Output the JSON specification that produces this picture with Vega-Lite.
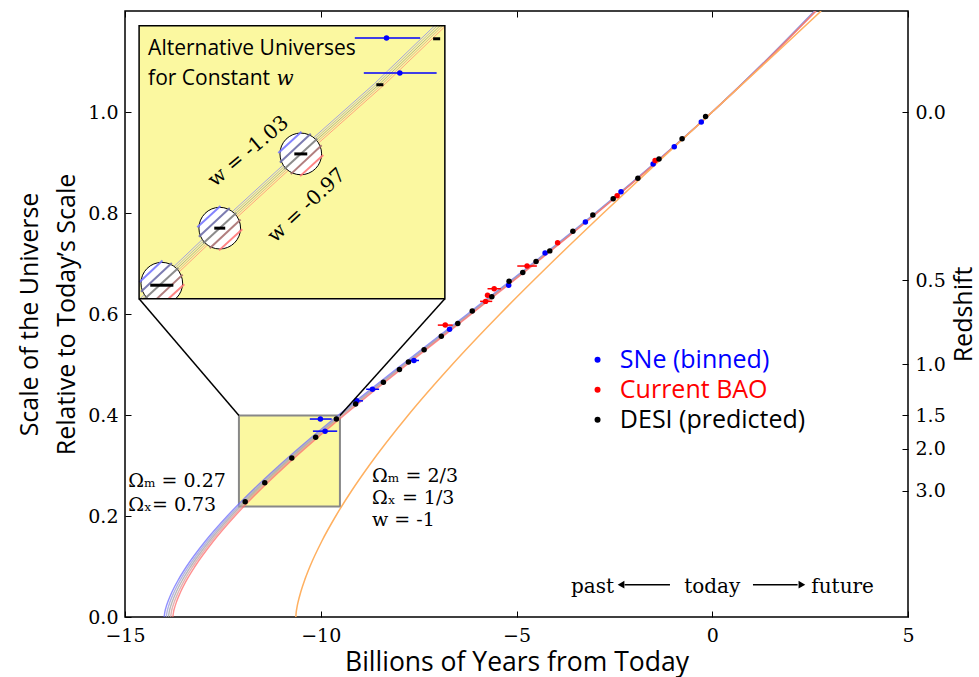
{
 "$schema": "https://vega.github.io/schema/vega-lite/v6.json",
 "width": 783, "height": 606,
 "autosize": {"type": "none"},
 "padding": {"left": 125, "top": 11, "right": 71, "bottom": 60},
 "background": "white",
 "config": {
  "view": {"stroke": "black", "strokeWidth": 1.5},
  "axis": {"grid": false, "domain": false, "labelFlush": false, "labelOverlap": false, "labelBound": false,
   "tickColor": "black", "tickWidth": 1, "labelColor": "black", "titleColor": "black",
   "labelFont": "DejaVu Serif", "labelFontSize": 19, "titleFont": "Open Sans", "titleFontSize": 24, "titleFontWeight": "normal"}
 },
 "resolve": {"axis": {"x": "independent", "y": "independent"}, "scale": {"color": "independent"}},
 "datasets": {
  "bundle": [
   {"w":"-1.03","a":0,"x":-14.0},{"w":"-1.03","a":0.01,"x":-13.982},{"w":"-1.03","a":0.02,"x":-13.949},{"w":"-1.03","a":0.03,"x":-13.905},{"w":"-1.03","a":0.05,"x":-13.798},{"w":"-1.03","a":0.075,"x":-13.628},{"w":"-1.03","a":0.1,"x":-13.428},{"w":"-1.03","a":0.15,"x":-12.95},{"w":"-1.03","a":0.2,"x":-12.387},{"w":"-1.03","a":0.25,"x":-11.754},{"w":"-1.03","a":0.3,"x":-11.062},{"w":"-1.03","a":0.35,"x":-10.323},{"w":"-1.03","a":0.4,"x":-9.546},{"w":"-1.03","a":0.45,"x":-8.741},{"w":"-1.03","a":0.5,"x":-7.918},{"w":"-1.03","a":0.6,"x":-6.25},{"w":"-1.03","a":0.7,"x":-4.593},{"w":"-1.03","a":0.8,"x":-2.988},{"w":"-1.03","a":0.9,"x":-1.455},{"w":"-1.03","a":1.0,"x":0},{"w":"-1.03","a":1.1,"x":1.344},{"w":"-1.03","a":1.2,"x":2.611},
   {"w":"-1.015","a":0,"x":-13.945},{"w":"-1.015","a":0.01,"x":-13.926},{"w":"-1.015","a":0.02,"x":-13.893},{"w":"-1.015","a":0.03,"x":-13.85},{"w":"-1.015","a":0.05,"x":-13.743},{"w":"-1.015","a":0.075,"x":-13.574},{"w":"-1.015","a":0.1,"x":-13.374},{"w":"-1.015","a":0.15,"x":-12.898},{"w":"-1.015","a":0.2,"x":-12.338},{"w":"-1.015","a":0.25,"x":-11.708},{"w":"-1.015","a":0.3,"x":-11.018},{"w":"-1.015","a":0.35,"x":-10.282},{"w":"-1.015","a":0.4,"x":-9.508},{"w":"-1.015","a":0.45,"x":-8.707},{"w":"-1.015","a":0.5,"x":-7.886},{"w":"-1.015","a":0.6,"x":-6.225},{"w":"-1.015","a":0.7,"x":-4.575},{"w":"-1.015","a":0.8,"x":-2.976},{"w":"-1.015","a":0.9,"x":-1.449},{"w":"-1.015","a":1.0,"x":0},{"w":"-1.015","a":1.1,"x":1.35},{"w":"-1.015","a":1.2,"x":2.621},
   {"w":"-1","a":0,"x":-13.889},{"w":"-1","a":0.01,"x":-13.871},{"w":"-1","a":0.02,"x":-13.838},{"w":"-1","a":0.03,"x":-13.795},{"w":"-1","a":0.05,"x":-13.688},{"w":"-1","a":0.075,"x":-13.52},{"w":"-1","a":0.1,"x":-13.321},{"w":"-1","a":0.15,"x":-12.847},{"w":"-1","a":0.2,"x":-12.289},{"w":"-1","a":0.25,"x":-11.661},{"w":"-1","a":0.3,"x":-10.974},{"w":"-1","a":0.35,"x":-10.241},{"w":"-1","a":0.4,"x":-9.47},{"w":"-1","a":0.45,"x":-8.672},{"w":"-1","a":0.5,"x":-7.855},{"w":"-1","a":0.6,"x":-6.2},{"w":"-1","a":0.7,"x":-4.557},{"w":"-1","a":0.8,"x":-2.964},{"w":"-1","a":0.9,"x":-1.443},{"w":"-1","a":1.0,"x":0},{"w":"-1","a":1.1,"x":1.355},{"w":"-1","a":1.2,"x":2.632},
   {"w":"-0.985","a":0,"x":-13.833},{"w":"-0.985","a":0.01,"x":-13.816},{"w":"-0.985","a":0.02,"x":-13.783},{"w":"-0.985","a":0.03,"x":-13.74},{"w":"-0.985","a":0.05,"x":-13.633},{"w":"-0.985","a":0.075,"x":-13.466},{"w":"-0.985","a":0.1,"x":-13.268},{"w":"-0.985","a":0.15,"x":-12.796},{"w":"-0.985","a":0.2,"x":-12.24},{"w":"-0.985","a":0.25,"x":-11.614},{"w":"-0.985","a":0.3,"x":-10.93},{"w":"-0.985","a":0.35,"x":-10.2},{"w":"-0.985","a":0.4,"x":-9.432},{"w":"-0.985","a":0.45,"x":-8.637},{"w":"-0.985","a":0.5,"x":-7.824},{"w":"-0.985","a":0.6,"x":-6.175},{"w":"-0.985","a":0.7,"x":-4.539},{"w":"-0.985","a":0.8,"x":-2.952},{"w":"-0.985","a":0.9,"x":-1.437},{"w":"-0.985","a":1.0,"x":0},{"w":"-0.985","a":1.1,"x":1.36},{"w":"-0.985","a":1.2,"x":2.643},
   {"w":"-0.97","a":0,"x":-13.778},{"w":"-0.97","a":0.01,"x":-13.76},{"w":"-0.97","a":0.02,"x":-13.727},{"w":"-0.97","a":0.03,"x":-13.685},{"w":"-0.97","a":0.05,"x":-13.578},{"w":"-0.97","a":0.075,"x":-13.412},{"w":"-0.97","a":0.1,"x":-13.214},{"w":"-0.97","a":0.15,"x":-12.744},{"w":"-0.97","a":0.2,"x":-12.191},{"w":"-0.97","a":0.25,"x":-11.568},{"w":"-0.97","a":0.3,"x":-10.886},{"w":"-0.97","a":0.35,"x":-10.159},{"w":"-0.97","a":0.4,"x":-9.394},{"w":"-0.97","a":0.45,"x":-8.603},{"w":"-0.97","a":0.5,"x":-7.792},{"w":"-0.97","a":0.6,"x":-6.15},{"w":"-0.97","a":0.7,"x":-4.521},{"w":"-0.97","a":0.8,"x":-2.94},{"w":"-0.97","a":0.9,"x":-1.431},{"w":"-0.97","a":1.0,"x":0},{"w":"-0.97","a":1.1,"x":1.366},{"w":"-0.97","a":1.2,"x":2.653}
  ],
  "orange": [
   {"a":0,"x":-10.637},{"a":0.01,"x":-10.626},{"a":0.02,"x":-10.605},{"a":0.03,"x":-10.578},{"a":0.05,"x":-10.509},{"a":0.075,"x":-10.402},{"a":0.1,"x":-10.276},{"a":0.15,"x":-9.974},{"a":0.2,"x":-9.616},{"a":0.25,"x":-9.211},{"a":0.3,"x":-8.764},{"a":0.4,"x":-7.763},{"a":0.5,"x":-6.64},{"a":0.6,"x":-5.42},{"a":0.7,"x":-4.125},{"a":0.8,"x":-2.778},{"a":0.9,"x":-1.397},{"a":1.0,"x":0},{"a":1.1,"x":1.397},{"a":1.2,"x":2.781}
  ],
  "pts": [
   {"kind":"SNe (binned)","x":-10.01,"a":0.392},{"kind":"SNe (binned)","x":-9.89,"a":0.368},{"kind":"SNe (binned)","x":-9.08,"a":0.428},{"kind":"SNe (binned)","x":-8.68,"a":0.451},{"kind":"SNe (binned)","x":-7.62,"a":0.508},{"kind":"SNe (binned)","x":-6.71,"a":0.57},{"kind":"SNe (binned)","x":-5.2,"a":0.657},{"kind":"SNe (binned)","x":-4.27,"a":0.721},{"kind":"SNe (binned)","x":-3.24,"a":0.782},{"kind":"SNe (binned)","x":-2.33,"a":0.842},{"kind":"SNe (binned)","x":-1.51,"a":0.897},{"kind":"SNe (binned)","x":-0.97,"a":0.931},{"kind":"SNe (binned)","x":-0.28,"a":0.98},
   {"kind":"Current BAO","x":-6.82,"a":0.578},{"kind":"Current BAO","x":-5.74,"a":0.637},{"kind":"Current BAO","x":-5.57,"a":0.65},{"kind":"Current BAO","x":-5.79,"a":0.625},{"kind":"Current BAO","x":-4.73,"a":0.695},{"kind":"Current BAO","x":-3.95,"a":0.741},{"kind":"Current BAO","x":-2.43,"a":0.834},{"kind":"Current BAO","x":-1.46,"a":0.904},
   {"kind":"DESI (predicted)","x":-11.93,"a":0.228},{"kind":"DESI (predicted)","x":-11.43,"a":0.266},{"kind":"DESI (predicted)","x":-10.74,"a":0.315},{"kind":"DESI (predicted)","x":-10.13,"a":0.356},{"kind":"DESI (predicted)","x":-9.6,"a":0.392},{"kind":"DESI (predicted)","x":-9.11,"a":0.422},{"kind":"DESI (predicted)","x":-8.4,"a":0.465},{"kind":"DESI (predicted)","x":-7.99,"a":0.49},{"kind":"DESI (predicted)","x":-7.76,"a":0.505},{"kind":"DESI (predicted)","x":-7.36,"a":0.529},{"kind":"DESI (predicted)","x":-6.92,"a":0.556},{"kind":"DESI (predicted)","x":-6.5,"a":0.581},{"kind":"DESI (predicted)","x":-6.13,"a":0.606},{"kind":"DESI (predicted)","x":-5.63,"a":0.634},{"kind":"DESI (predicted)","x":-5.19,"a":0.665},{"kind":"DESI (predicted)","x":-4.84,"a":0.682},{"kind":"DESI (predicted)","x":-4.5,"a":0.704},{"kind":"DESI (predicted)","x":-4.15,"a":0.725},{"kind":"DESI (predicted)","x":-3.56,"a":0.764},{"kind":"DESI (predicted)","x":-3.05,"a":0.796},{"kind":"DESI (predicted)","x":-2.53,"a":0.828},{"kind":"DESI (predicted)","x":-1.9,"a":0.869},{"kind":"DESI (predicted)","x":-1.36,"a":0.907},{"kind":"DESI (predicted)","x":-0.77,"a":0.947},{"kind":"DESI (predicted)","x":-0.17,"a":0.991}
  ],
  "errs": [
   {"kind":"SNe (binned)","a":0.392,"lo":-10.28,"hi":-9.72},{"kind":"SNe (binned)","a":0.368,"lo":-10.2,"hi":-9.58},{"kind":"SNe (binned)","a":0.428,"lo":-9.18,"hi":-8.92},{"kind":"SNe (binned)","a":0.451,"lo":-8.84,"hi":-8.51},{"kind":"SNe (binned)","a":0.508,"lo":-7.75,"hi":-7.49},
   {"kind":"Current BAO","a":0.578,"lo":-7.01,"hi":-6.63},{"kind":"Current BAO","a":0.65,"lo":-5.74,"hi":-5.4},{"kind":"Current BAO","a":0.625,"lo":-5.93,"hi":-5.62},{"kind":"Current BAO","a":0.695,"lo":-4.98,"hi":-4.48}
  ],
  "smallbox": [{"x":-12.09,"xe":-9.51,"a":0.219,"ae":0.399}],
  "insetbox": [{"x":-14.64,"xe":-6.83,"a":0.63,"ae":1.171}],
  "insetcurves": [
   {"w":"-1.03","x":-14.62,"a":0.63},{"w":"-1.03","x":-14.2,"a":0.661},{"w":"-1.03","x":-12.72,"a":0.77},{"w":"-1.03","x":-10.65,"a":0.917},{"w":"-1.03","x":-8.63,"a":1.056},{"w":"-1.03","x":-7.09,"a":1.171},
   {"w":"-1.015","x":-14.55,"a":0.63},{"w":"-1.015","x":-14.13,"a":0.661},{"w":"-1.015","x":-12.65,"a":0.77},{"w":"-1.015","x":-10.58,"a":0.917},{"w":"-1.015","x":-8.56,"a":1.056},{"w":"-1.015","x":-7.02,"a":1.171},
   {"w":"-1","x":-14.48,"a":0.63},{"w":"-1","x":-14.06,"a":0.661},{"w":"-1","x":-12.58,"a":0.77},{"w":"-1","x":-10.51,"a":0.917},{"w":"-1","x":-8.49,"a":1.056},{"w":"-1","x":-6.95,"a":1.171},
   {"w":"-0.985","x":-14.41,"a":0.63},{"w":"-0.985","x":-13.99,"a":0.661},{"w":"-0.985","x":-12.51,"a":0.77},{"w":"-0.985","x":-10.44,"a":0.917},{"w":"-0.985","x":-8.42,"a":1.056},{"w":"-0.985","x":-6.88,"a":1.171},
   {"w":"-0.97","x":-14.34,"a":0.63},{"w":"-0.97","x":-13.92,"a":0.661},{"w":"-0.97","x":-12.44,"a":0.77},{"w":"-0.97","x":-10.37,"a":0.917},{"w":"-0.97","x":-8.35,"a":1.056},{"w":"-0.97","x":-6.83,"a":1.169}
  ],
  "inseterrs": [{"a":1.1465,"lo":-9.13,"hi":-7.46},{"a":1.0772,"lo":-8.9,"hi":-7.04}],
  "insetpts": [{"x":-8.32,"a":1.1465},{"x":-7.98,"a":1.0772}],
  "circles": [{"x":-14.06,"a":0.661},{"x":-12.58,"a":0.77},{"x":-10.51,"a":0.917}],
  "hatch": [
   {"w":"-1.03","x":-14.634,"a":0.663,"xe":-14.042,"ae":0.706},{"w":"-1.015","x":-14.593,"a":0.644,"xe":-13.805,"ae":0.701},{"w":"-1","x":-14.481,"a":0.631,"xe":-13.639,"ae":0.691},{"w":"-0.985","x":-14.315,"a":0.621,"xe":-13.527,"ae":0.678},{"w":"-0.97","x":-14.078,"a":0.617,"xe":-13.486,"ae":0.659},
   {"w":"-1.03","x":-13.154,"a":0.772,"xe":-12.562,"ae":0.814},{"w":"-1.015","x":-13.113,"a":0.753,"xe":-12.325,"ae":0.81},{"w":"-1","x":-13.001,"a":0.74,"xe":-12.159,"ae":0.8},{"w":"-0.985","x":-12.835,"a":0.73,"xe":-12.047,"ae":0.787},{"w":"-0.97","x":-12.598,"a":0.726,"xe":-12.006,"ae":0.768},
   {"w":"-1.03","x":-11.084,"a":0.919,"xe":-10.492,"ae":0.961},{"w":"-1.015","x":-11.043,"a":0.9,"xe":-10.255,"ae":0.957},{"w":"-1","x":-10.931,"a":0.887,"xe":-10.089,"ae":0.947},{"w":"-0.985","x":-10.765,"a":0.877,"xe":-9.977,"ae":0.934},{"w":"-0.97","x":-10.528,"a":0.873,"xe":-9.936,"ae":0.915}
  ],
  "dashes": [{"x":-14.355,"xe":-13.765,"a":0.657},{"x":-12.72,"xe":-12.44,"a":0.77},{"x":-10.675,"xe":-10.345,"a":0.917},{"x":-8.58,"xe":-8.4,"a":1.054},{"x":-7.13,"xe":-6.95,"a":1.145}],
  "cover": [{"x":-14.75,"xe":-13.3,"a":0.6,"ae":0.6295}],
  "connectors": [{"x":-12.09,"a":0.399,"xe":-14.64,"ae":0.63},{"x":-9.51,"a":0.399,"xe":-6.83,"ae":0.63}],
  "legenddots": [{"kind":"SNe (binned)","x":-2.93,"a":0.5095},{"kind":"Current BAO","x":-2.93,"a":0.45},{"kind":"DESI (predicted)","x":-2.93,"a":0.3907}],
  "legendtext": [{"kind":"SNe (binned)","x":-2.36,"a":0.4937},{"kind":"Current BAO","x":-2.36,"a":0.4343},{"kind":"DESI (predicted)","x":-2.36,"a":0.3749}],
  "insettitle": [{"t":"Alternative Universes","x":-14.41,"a":1.1135},{"t":"for Constant","x":-14.41,"a":1.054}],
  "insetw": [{"t":"w","x":-11.13,"a":1.054}],
  "wlabelA": [{"t":"w = -1.03","x":-11.85,"a":0.922}],
  "wlabelB": [{"t":"w = -0.97","x":-10.36,"a":0.815}],
  "omega": [{"t":"Ωₘ = 0.27","x":-14.92,"a":0.258},{"t":"Ωₓ= 0.73","x":-14.92,"a":0.2105},{"t":"Ωₘ = 2/3","x":-8.69,"a":0.268},{"t":"Ωₓ = 1/3","x":-8.69,"a":0.2244},{"t":"w = -1","x":-8.69,"a":0.181}],
  "timeline": [{"t":"past","x":-3.06,"a":0.0475},{"t":"today","x":0,"a":0.0475},{"t":"future","x":3.33,"a":0.0475}],
  "arrows": [{"x":-2.24,"xe":-1.08,"a":0.064},{"x":1.04,"xe":2.18,"a":0.064}],
  "headL": [{"x":-2.33,"a":0.064}],
  "headR": [{"x":2.29,"a":0.064}]
 },
 "layer": [
  {"data": {"name": "smallbox"}, "mark": {"type": "rect", "fill": "#fbf8a0", "stroke": "#888888", "strokeWidth": 2},
   "encoding": {"x": {"field": "x", "type": "quantitative", "scale": {"domain": [-15, 5], "nice": false, "zero": false}, "axis": null}, "x2": {"field": "xe"},
    "y": {"field": "a", "type": "quantitative", "scale": {"domain": [0, 1.2], "nice": false, "zero": false}, "axis": null}, "y2": {"field": "ae"}}},
  {"data": {"name": "insetbox"}, "mark": {"type": "rect", "fill": "#fbf8a0"},
   "encoding": {"x": {"field": "x", "type": "quantitative", "scale": {"domain": [-15, 5], "nice": false, "zero": false}, "axis": null}, "x2": {"field": "xe"},
    "y": {"field": "a", "type": "quantitative", "scale": {"domain": [0, 1.2], "nice": false, "zero": false}, "axis": null}, "y2": {"field": "ae"}}},
  {"data": {"name": "bundle"}, "mark": {"type": "line", "strokeWidth": 1.4, "opacity": 0.75, "interpolate": "monotone", "clip": true},
   "encoding": {
    "x": {"field": "x", "type": "quantitative", "scale": {"domain": [-15, 5], "nice": false, "zero": false},
     "axis": {"orient": "bottom", "values": [-15, -10, -5, 0, 5], "format": "d", "tickSize": -6, "labelPadding": 15, "title": "Billions of Years from Today", "titleFontSize": 26.5, "titlePadding": 4}},
    "y": {"field": "a", "type": "quantitative", "scale": {"domain": [0, 1.2], "nice": false, "zero": false},
     "axis": {"orient": "left", "values": [0, 0.2, 0.4, 0.6, 0.8, 1.0], "format": ".1f", "tickSize": -6, "labelPadding": 13, "title": ["Scale of the Universe", "Relative to Today’s Scale"], "titleFontSize": 25, "titlePadding": 8, "titleLineHeight": 37}},
    "color": {"field": "w", "type": "nominal", "scale": {"domain": ["-1.03", "-1.015", "-1", "-0.985", "-0.97"], "range": ["#6b6bff", "#9a9ad6", "#a0a0a0", "#d69a9a", "#ff6b6b"]}, "legend": null},
    "order": {"field": "a", "type": "quantitative"}}},
  {"data": {"name": "orange"}, "mark": {"type": "line", "stroke": "#ffb060", "strokeWidth": 1.5, "interpolate": "monotone", "clip": true},
   "encoding": {
    "x": {"field": "x", "type": "quantitative", "scale": {"domain": [-15, 5], "nice": false, "zero": false},
     "axis": {"orient": "top", "values": [-15, -10, -5, 0, 5], "labels": false, "tickSize": -6, "title": null}},
    "y": {"field": "a", "type": "quantitative", "scale": {"domain": [0, 1.2], "nice": false, "zero": false},
     "axis": {"orient": "right", "values": [1, 0.66667, 0.5, 0.4, 0.33333, 0.25], "labelExpr": "format(1/datum.value-1,'.1f')", "tickSize": -6, "labelPadding": 13, "title": "Redshift", "titleFontSize": 25, "titleAngle": -90, "titleAlign": "center", "titleBaseline": "middle", "titleX": 55, "titleY": 303}},
    "order": {"field": "a", "type": "quantitative"}}},
  {"data": {"name": "errs"}, "mark": {"type": "rule", "strokeWidth": 1.5},
   "encoding": {"x": {"field": "lo", "type": "quantitative", "scale": {"domain": [-15, 5], "nice": false, "zero": false}, "axis": null}, "x2": {"field": "hi"},
    "y": {"field": "a", "type": "quantitative", "scale": {"domain": [0, 1.2], "nice": false, "zero": false}, "axis": null},
    "color": {"field": "kind", "type": "nominal", "scale": {"domain": ["SNe (binned)", "Current BAO", "DESI (predicted)"], "range": ["#0000ff", "#ff0000", "#000000"]}, "legend": null}}},
  {"data": {"name": "pts"}, "mark": {"type": "point", "filled": true, "size": 30, "opacity": 1},
   "encoding": {"x": {"field": "x", "type": "quantitative", "scale": {"domain": [-15, 5], "nice": false, "zero": false}, "axis": null},
    "y": {"field": "a", "type": "quantitative", "scale": {"domain": [0, 1.2], "nice": false, "zero": false}, "axis": null},
    "color": {"field": "kind", "type": "nominal", "scale": {"domain": ["SNe (binned)", "Current BAO", "DESI (predicted)"], "range": ["#0000ff", "#ff0000", "#000000"]}, "legend": null}}},
  {"data": {"name": "insetcurves"}, "mark": {"type": "line", "strokeWidth": 1, "opacity": 0.6},
   "encoding": {"x": {"field": "x", "type": "quantitative", "scale": {"domain": [-15, 5], "nice": false, "zero": false}, "axis": null},
    "y": {"field": "a", "type": "quantitative", "scale": {"domain": [0, 1.2], "nice": false, "zero": false}, "axis": null},
    "color": {"field": "w", "type": "nominal", "scale": {"domain": ["-1.03", "-1.015", "-1", "-0.985", "-0.97"], "range": ["#6b6bff", "#8a8ac6", "#808080", "#c68a8a", "#ff6b6b"]}, "legend": null},
    "order": {"field": "a", "type": "quantitative"}}},
  {"data": {"name": "inseterrs"}, "mark": {"type": "rule", "strokeWidth": 1.5, "color": "#0000ff"},
   "encoding": {"x": {"field": "lo", "type": "quantitative", "scale": {"domain": [-15, 5], "nice": false, "zero": false}, "axis": null}, "x2": {"field": "hi"},
    "y": {"field": "a", "type": "quantitative", "scale": {"domain": [0, 1.2], "nice": false, "zero": false}, "axis": null}}},
  {"data": {"name": "insetpts"}, "mark": {"type": "point", "filled": true, "size": 30, "color": "#0000ff", "opacity": 1},
   "encoding": {"x": {"field": "x", "type": "quantitative", "scale": {"domain": [-15, 5], "nice": false, "zero": false}, "axis": null},
    "y": {"field": "a", "type": "quantitative", "scale": {"domain": [0, 1.2], "nice": false, "zero": false}, "axis": null}}},
  {"data": {"name": "circles"}, "mark": {"type": "point", "shape": "circle", "filled": false, "fill": "white", "fillOpacity": 1, "stroke": "black", "strokeWidth": 1, "size": 1735, "opacity": 1},
   "encoding": {"x": {"field": "x", "type": "quantitative", "scale": {"domain": [-15, 5], "nice": false, "zero": false}, "axis": null},
    "y": {"field": "a", "type": "quantitative", "scale": {"domain": [0, 1.2], "nice": false, "zero": false}, "axis": null}}},
  {"data": {"name": "hatch"}, "mark": {"type": "rule", "strokeWidth": 2, "opacity": 0.9},
   "encoding": {"x": {"field": "x", "type": "quantitative", "scale": {"domain": [-15, 5], "nice": false, "zero": false}, "axis": null}, "x2": {"field": "xe"},
    "y": {"field": "a", "type": "quantitative", "scale": {"domain": [0, 1.2], "nice": false, "zero": false}, "axis": null}, "y2": {"field": "ae"},
    "color": {"field": "w", "type": "nominal", "scale": {"domain": ["-1.03", "-1.015", "-1", "-0.985", "-0.97"], "range": ["#7777ff", "#6e6ea8", "#808080", "#a87070", "#ff7777"]}, "legend": null}}},
  {"data": {"name": "dashes"}, "mark": {"type": "rule", "strokeWidth": 3, "color": "black"},
   "encoding": {"x": {"field": "x", "type": "quantitative", "scale": {"domain": [-15, 5], "nice": false, "zero": false}, "axis": null}, "x2": {"field": "xe"},
    "y": {"field": "a", "type": "quantitative", "scale": {"domain": [0, 1.2], "nice": false, "zero": false}, "axis": null}}},
  {"data": {"name": "cover"}, "mark": {"type": "rect", "fill": "white"},
   "encoding": {"x": {"field": "x", "type": "quantitative", "scale": {"domain": [-15, 5], "nice": false, "zero": false}, "axis": null}, "x2": {"field": "xe"},
    "y": {"field": "a", "type": "quantitative", "scale": {"domain": [0, 1.2], "nice": false, "zero": false}, "axis": null}, "y2": {"field": "ae"}}},
  {"data": {"name": "insetbox"}, "mark": {"type": "rect", "fill": null, "fillOpacity": 0, "stroke": "black", "strokeWidth": 1.5},
   "encoding": {"x": {"field": "x", "type": "quantitative", "scale": {"domain": [-15, 5], "nice": false, "zero": false}, "axis": null}, "x2": {"field": "xe"},
    "y": {"field": "a", "type": "quantitative", "scale": {"domain": [0, 1.2], "nice": false, "zero": false}, "axis": null}, "y2": {"field": "ae"}}},
  {"data": {"name": "connectors"}, "mark": {"type": "rule", "strokeWidth": 1.5, "color": "black"},
   "encoding": {"x": {"field": "x", "type": "quantitative", "scale": {"domain": [-15, 5], "nice": false, "zero": false}, "axis": null}, "x2": {"field": "xe"},
    "y": {"field": "a", "type": "quantitative", "scale": {"domain": [0, 1.2], "nice": false, "zero": false}, "axis": null}, "y2": {"field": "ae"}}},
  {"data": {"name": "legenddots"}, "mark": {"type": "point", "filled": true, "size": 36, "opacity": 1},
   "encoding": {"x": {"field": "x", "type": "quantitative", "scale": {"domain": [-15, 5], "nice": false, "zero": false}, "axis": null},
    "y": {"field": "a", "type": "quantitative", "scale": {"domain": [0, 1.2], "nice": false, "zero": false}, "axis": null},
    "color": {"field": "kind", "type": "nominal", "scale": {"domain": ["SNe (binned)", "Current BAO", "DESI (predicted)"], "range": ["#0000ff", "#ff0000", "#000000"]}, "legend": null}}},
  {"data": {"name": "legendtext"}, "mark": {"type": "text", "font": "Open Sans", "fontSize": 25, "align": "left", "baseline": "alphabetic"},
   "encoding": {"x": {"field": "x", "type": "quantitative", "scale": {"domain": [-15, 5], "nice": false, "zero": false}, "axis": null},
    "y": {"field": "a", "type": "quantitative", "scale": {"domain": [0, 1.2], "nice": false, "zero": false}, "axis": null},
    "text": {"field": "kind", "type": "nominal"},
    "color": {"field": "kind", "type": "nominal", "scale": {"domain": ["SNe (binned)", "Current BAO", "DESI (predicted)"], "range": ["#0000ff", "#ff0000", "#000000"]}, "legend": null}}},
  {"data": {"name": "insettitle"}, "mark": {"type": "text", "font": "Open Sans", "fontSize": 21, "align": "left", "baseline": "alphabetic", "color": "black"},
   "encoding": {"x": {"field": "x", "type": "quantitative", "scale": {"domain": [-15, 5], "nice": false, "zero": false}, "axis": null},
    "y": {"field": "a", "type": "quantitative", "scale": {"domain": [0, 1.2], "nice": false, "zero": false}, "axis": null},
    "text": {"field": "t", "type": "nominal"}}},
  {"data": {"name": "insetw"}, "mark": {"type": "text", "font": "DejaVu Serif", "fontStyle": "italic", "fontSize": 20, "align": "left", "baseline": "alphabetic", "color": "black"},
   "encoding": {"x": {"field": "x", "type": "quantitative", "scale": {"domain": [-15, 5], "nice": false, "zero": false}, "axis": null},
    "y": {"field": "a", "type": "quantitative", "scale": {"domain": [0, 1.2], "nice": false, "zero": false}, "axis": null},
    "text": {"field": "t", "type": "nominal"}}},
  {"data": {"name": "wlabelA"}, "mark": {"type": "text", "font": "DejaVu Serif", "fontSize": 20, "align": "center", "baseline": "middle", "angle": -40, "color": "black"},
   "encoding": {"x": {"field": "x", "type": "quantitative", "scale": {"domain": [-15, 5], "nice": false, "zero": false}, "axis": null},
    "y": {"field": "a", "type": "quantitative", "scale": {"domain": [0, 1.2], "nice": false, "zero": false}, "axis": null},
    "text": {"field": "t", "type": "nominal"}}},
  {"data": {"name": "wlabelB"}, "mark": {"type": "text", "font": "DejaVu Serif", "fontSize": 20, "align": "center", "baseline": "middle", "angle": -43, "color": "black"},
   "encoding": {"x": {"field": "x", "type": "quantitative", "scale": {"domain": [-15, 5], "nice": false, "zero": false}, "axis": null},
    "y": {"field": "a", "type": "quantitative", "scale": {"domain": [0, 1.2], "nice": false, "zero": false}, "axis": null},
    "text": {"field": "t", "type": "nominal"}}},
  {"data": {"name": "omega"}, "mark": {"type": "text", "font": "DejaVu Serif", "fontSize": 19, "align": "left", "baseline": "alphabetic", "color": "black"},
   "encoding": {"x": {"field": "x", "type": "quantitative", "scale": {"domain": [-15, 5], "nice": false, "zero": false}, "axis": null},
    "y": {"field": "a", "type": "quantitative", "scale": {"domain": [0, 1.2], "nice": false, "zero": false}, "axis": null},
    "text": {"field": "t", "type": "nominal"}}},
  {"data": {"name": "timeline"}, "mark": {"type": "text", "font": "DejaVu Serif", "fontSize": 20, "align": "center", "baseline": "alphabetic", "color": "black"},
   "encoding": {"x": {"field": "x", "type": "quantitative", "scale": {"domain": [-15, 5], "nice": false, "zero": false}, "axis": null},
    "y": {"field": "a", "type": "quantitative", "scale": {"domain": [0, 1.2], "nice": false, "zero": false}, "axis": null},
    "text": {"field": "t", "type": "nominal"}}},
  {"data": {"name": "arrows"}, "mark": {"type": "rule", "strokeWidth": 1.5, "color": "black"},
   "encoding": {"x": {"field": "x", "type": "quantitative", "scale": {"domain": [-15, 5], "nice": false, "zero": false}, "axis": null}, "x2": {"field": "xe"},
    "y": {"field": "a", "type": "quantitative", "scale": {"domain": [0, 1.2], "nice": false, "zero": false}, "axis": null}}},
  {"data": {"name": "headL"}, "mark": {"type": "point", "shape": "triangle-left", "filled": true, "size": 60, "color": "black", "opacity": 1},
   "encoding": {"x": {"field": "x", "type": "quantitative", "scale": {"domain": [-15, 5], "nice": false, "zero": false}, "axis": null},
    "y": {"field": "a", "type": "quantitative", "scale": {"domain": [0, 1.2], "nice": false, "zero": false}, "axis": null}}},
  {"data": {"name": "headR"}, "mark": {"type": "point", "shape": "triangle-right", "filled": true, "size": 60, "color": "black", "opacity": 1},
   "encoding": {"x": {"field": "x", "type": "quantitative", "scale": {"domain": [-15, 5], "nice": false, "zero": false}, "axis": null},
    "y": {"field": "a", "type": "quantitative", "scale": {"domain": [0, 1.2], "nice": false, "zero": false}, "axis": null}}}
 ]
}
